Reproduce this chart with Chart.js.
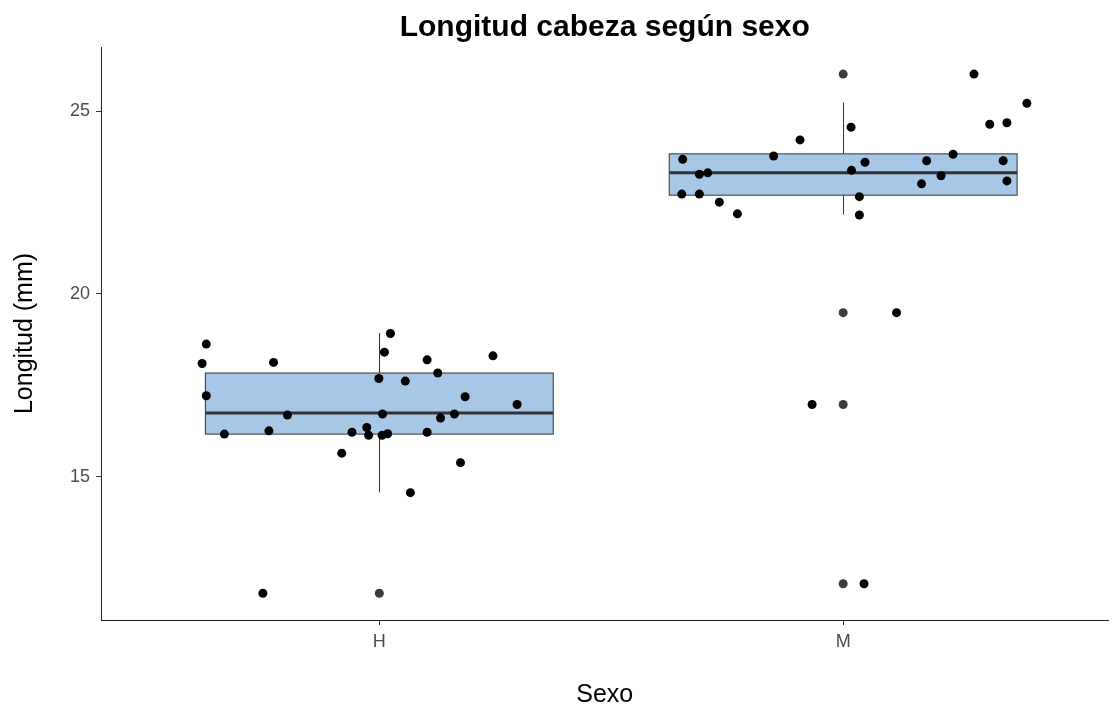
<!DOCTYPE html>
<html>
<head>
<meta charset="utf-8">
<script src="https://cdn.jsdelivr.net/npm/chart.js@4.4.1/dist/chart.umd.min.js"></script>
<style>
  html, body { margin: 0; padding: 0; background: #fff; }
</style>
</head>
<body>
<canvas id="chart" width="1113" height="710"></canvas>
<script>
const categories = ['H', 'M'];
const yTicks = [15, 20, 25];

// boxplot stats, one value per category
const whiskerLow = [14.58, 22.17];
const q1 = [16.17, 22.70];
const median = [16.75, 23.31];
const q3 = [17.84, 23.83];
const whiskerHigh = [18.93, 25.23];

// outliers drawn by the boxplot (at the category centre)
const outlierX = [1, 2, 2, 2, 2];
const outlierY = [11.82, 26.01, 19.49, 16.98, 12.08];

// jittered points
const hX = [0.627, 0.618, 0.627, 0.666, 0.772, 0.762, 0.802, 1.024, 1.011, 0.999,
            1.007, 0.941, 0.973, 0.977, 1.006, 1.018, 0.919, 1.067, 1.056, 1.103,
            1.126, 1.103, 1.132, 1.162, 1.185, 1.175, 1.245, 1.297, 0.749];
const hY = [18.63, 18.10, 17.22, 16.17, 18.13, 16.26, 16.69, 18.92, 18.41, 17.69,
            16.72, 16.22, 16.35, 16.14, 16.14, 16.18, 15.65, 14.57, 17.62, 18.20,
            17.84, 16.22, 16.61, 16.72, 17.19, 15.39, 18.31, 16.98, 11.82];
const mX = [2.282, 2.396, 2.316, 2.353, 2.017, 1.907, 1.850, 1.654, 1.690, 1.708,
            1.652, 1.690, 1.733, 1.772, 2.018, 2.047, 2.035, 2.035, 2.180, 2.169,
            2.211, 2.237, 2.345, 2.353, 2.115, 1.933, 2.045];
const mY = [26.01, 25.21, 24.64, 24.68, 24.56, 24.21, 23.77, 23.68, 23.27, 23.31,
            22.73, 22.73, 22.51, 22.19, 23.38, 23.60, 22.66, 22.16, 23.64, 23.01,
            23.23, 23.82, 23.64, 23.09, 19.49, 16.98, 12.08];

const FONT = "'Liberation Sans', Arial, sans-serif";
const boxWidth = 0.75;

function toPoints(xs, ys) {
  return xs.map((x, i) => ({ x: x, y: ys[i] }));
}

// draws the boxes under the points, using the chart's scales
const boxPlugin = {
  id: 'boxes',
  beforeDatasetsDraw(chart) {
    const { ctx, scales: { x, y } } = chart;
    categories.forEach((c, i) => {
      const cx = Math.round(x.getPixelForValue(i + 1)) + 0.5;
      const left = x.getPixelForValue(i + 1 - boxWidth / 2);
      const right = x.getPixelForValue(i + 1 + boxWidth / 2);
      const top = y.getPixelForValue(q3[i]);
      const bottom = y.getPixelForValue(q1[i]);

      ctx.save();
      ctx.strokeStyle = '#333333';
      ctx.lineWidth = 1;
      ctx.beginPath();
      ctx.moveTo(cx, y.getPixelForValue(whiskerHigh[i]));
      ctx.lineTo(cx, top);
      ctx.moveTo(cx, bottom);
      ctx.lineTo(cx, y.getPixelForValue(whiskerLow[i]));
      ctx.stroke();

      ctx.fillStyle = '#a7c7e7';
      ctx.fillRect(left, top, right - left, bottom - top);
      ctx.strokeRect(left, top, right - left, bottom - top);

      const my = y.getPixelForValue(median[i]);
      ctx.lineWidth = 3;
      ctx.beginPath();
      ctx.moveTo(left, my);
      ctx.lineTo(right, my);
      ctx.stroke();
      ctx.restore();
    });
  }
};

new Chart(document.getElementById('chart'), {
  type: 'scatter',
  data: {
    datasets: [
      {
        label: 'outliers',
        data: toPoints(outlierX, outlierY),
        backgroundColor: '#3c3c3c',
        borderWidth: 0,
        pointRadius: 4.5
      },
      {
        label: 'H',
        data: toPoints(hX, hY),
        backgroundColor: '#000000',
        borderWidth: 0,
        pointRadius: 4.5
      },
      {
        label: 'M',
        data: toPoints(mX, mY),
        backgroundColor: '#000000',
        borderWidth: 0,
        pointRadius: 4.5
      }
    ]
  },
  options: {
    responsive: false,
    animation: false,
    layout: { padding: 0 },
    plugins: {
      legend: { display: false },
      tooltip: { enabled: false },
      title: {
        display: true,
        text: 'Longitud cabeza según sexo',
        fullSize: false,
        color: '#000',
        font: { family: FONT, size: 30, weight: 'bold' },
        padding: { top: 10, bottom: 1 }
      }
    },
    scales: {
      x: {
        type: 'linear',
        min: 0.4,
        max: 2.572,
        afterBuildTicks: s => { s.ticks = categories.map((c, i) => ({ value: i + 1 })); },
        afterFit: s => { s.height = 90; },
        ticks: {
          callback: v => categories[Math.round(v) - 1],
          color: '#4d4d4d',
          font: { family: FONT, size: 18 },
          padding: 6,
          autoSkip: false,
          maxRotation: 0
        },
        grid: { drawOnChartArea: false, drawTicks: true, tickLength: 5, color: '#333' },
        border: { display: true, color: '#222', width: 1 },
        title: {
          display: true,
          text: 'Sexo',
          color: '#000',
          font: { family: FONT, size: 25 },
          padding: { top: 0, bottom: 0 }
        }
      },
      y: {
        min: 11.09,
        max: 26.75,
        afterBuildTicks: s => { s.ticks = yTicks.map(v => ({ value: v })); },
        afterFit: s => { s.width = 101; },
        ticks: {
          color: '#4d4d4d',
          font: { family: FONT, size: 18 },
          padding: 6
        },
        grid: { drawOnChartArea: false, drawTicks: true, tickLength: 5, color: '#333' },
        border: { display: true, color: '#222', width: 1 },
        title: {
          display: true,
          text: 'Longitud (mm)',
          color: '#000',
          font: { family: FONT, size: 25 },
          padding: { top: 10, bottom: 0 }
        }
      }
    }
  },
  plugins: [boxPlugin]
});
</script>
</body>
</html>
